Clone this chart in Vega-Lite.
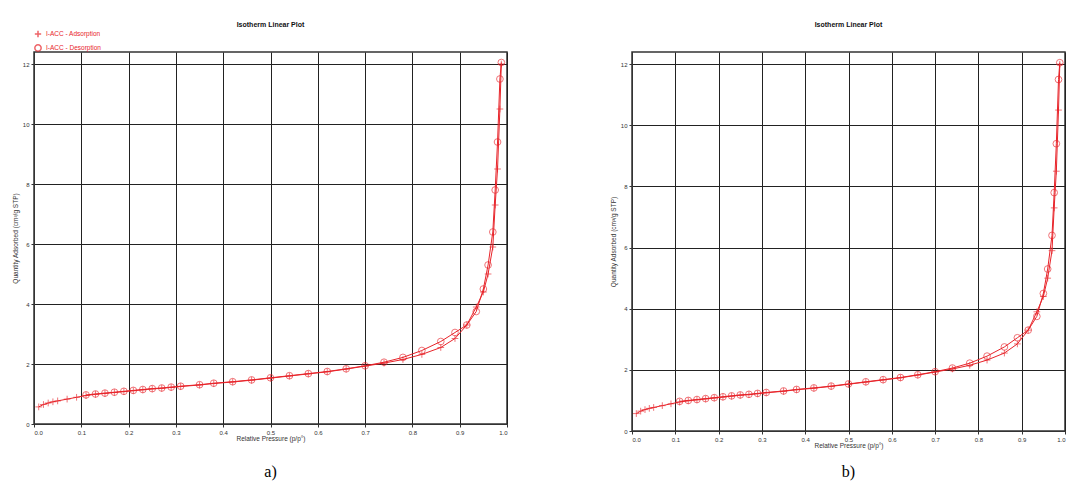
{
  "$schema": "https://vega.github.io/schema/vega-lite/v6.json",
  "background": "white",
  "padding": {"left": 11, "top": 20, "right": 2, "bottom": 0},
  "config": {
    "view": {"stroke": "#333", "strokeWidth": 1.5},
    "font": "Liberation Sans",
    "title": {"fontSize": 7, "fontWeight": "bold", "color": "#111", "offset": 24},
    "axis": {"labelFontSize": 6, "titleFontSize": 6.5, "titleFontWeight": "normal", "gridColor": "#222", "gridOpacity": 1, "gridWidth": 1, "domainColor": "#333", "tickColor": "#333", "labelColor": "#333", "titleColor": "#333", "tickSize": 3}
  },
  "datasets": {
    "iso": [
      {"p": 0.01, "q": 0.57, "s": "I-ACC - Adsorption"},
      {"p": 0.02, "q": 0.65, "s": "I-ACC - Adsorption"},
      {"p": 0.03, "q": 0.70, "s": "I-ACC - Adsorption"},
      {"p": 0.04, "q": 0.74, "s": "I-ACC - Adsorption"},
      {"p": 0.05, "q": 0.77, "s": "I-ACC - Adsorption"},
      {"p": 0.07, "q": 0.83, "s": "I-ACC - Adsorption"},
      {"p": 0.09, "q": 0.89, "s": "I-ACC - Adsorption"},
      {"p": 0.11, "q": 0.95, "s": "I-ACC - Adsorption"},
      {"p": 0.13, "q": 0.99, "s": "I-ACC - Adsorption"},
      {"p": 0.15, "q": 1.02, "s": "I-ACC - Adsorption"},
      {"p": 0.17, "q": 1.05, "s": "I-ACC - Adsorption"},
      {"p": 0.19, "q": 1.08, "s": "I-ACC - Adsorption"},
      {"p": 0.21, "q": 1.11, "s": "I-ACC - Adsorption"},
      {"p": 0.23, "q": 1.14, "s": "I-ACC - Adsorption"},
      {"p": 0.25, "q": 1.17, "s": "I-ACC - Adsorption"},
      {"p": 0.27, "q": 1.19, "s": "I-ACC - Adsorption"},
      {"p": 0.29, "q": 1.22, "s": "I-ACC - Adsorption"},
      {"p": 0.31, "q": 1.25, "s": "I-ACC - Adsorption"},
      {"p": 0.35, "q": 1.30, "s": "I-ACC - Adsorption"},
      {"p": 0.38, "q": 1.35, "s": "I-ACC - Adsorption"},
      {"p": 0.42, "q": 1.40, "s": "I-ACC - Adsorption"},
      {"p": 0.46, "q": 1.46, "s": "I-ACC - Adsorption"},
      {"p": 0.50, "q": 1.53, "s": "I-ACC - Adsorption"},
      {"p": 0.54, "q": 1.60, "s": "I-ACC - Adsorption"},
      {"p": 0.58, "q": 1.67, "s": "I-ACC - Adsorption"},
      {"p": 0.62, "q": 1.74, "s": "I-ACC - Adsorption"},
      {"p": 0.66, "q": 1.83, "s": "I-ACC - Adsorption"},
      {"p": 0.70, "q": 1.93, "s": "I-ACC - Adsorption"},
      {"p": 0.74, "q": 2.03, "s": "I-ACC - Adsorption"},
      {"p": 0.78, "q": 2.15, "s": "I-ACC - Adsorption"},
      {"p": 0.82, "q": 2.32, "s": "I-ACC - Adsorption"},
      {"p": 0.86, "q": 2.55, "s": "I-ACC - Adsorption"},
      {"p": 0.89, "q": 2.85, "s": "I-ACC - Adsorption"},
      {"p": 0.915, "q": 3.3, "s": "I-ACC - Adsorption"},
      {"p": 0.935, "q": 3.9, "s": "I-ACC - Adsorption"},
      {"p": 0.95, "q": 4.4, "s": "I-ACC - Adsorption"},
      {"p": 0.96, "q": 5.0, "s": "I-ACC - Adsorption"},
      {"p": 0.97, "q": 5.9, "s": "I-ACC - Adsorption"},
      {"p": 0.975, "q": 7.3, "s": "I-ACC - Adsorption"},
      {"p": 0.98, "q": 8.5, "s": "I-ACC - Adsorption"},
      {"p": 0.985, "q": 10.5, "s": "I-ACC - Adsorption"},
      {"p": 0.988, "q": 12.0, "s": "I-ACC - Adsorption"},
      {"p": 0.988, "q": 12.05, "s": "I-ACC - Desorption"},
      {"p": 0.985, "q": 11.5, "s": "I-ACC - Desorption"},
      {"p": 0.98, "q": 9.4, "s": "I-ACC - Desorption"},
      {"p": 0.975, "q": 7.8, "s": "I-ACC - Desorption"},
      {"p": 0.97, "q": 6.4, "s": "I-ACC - Desorption"},
      {"p": 0.96, "q": 5.3, "s": "I-ACC - Desorption"},
      {"p": 0.95, "q": 4.5, "s": "I-ACC - Desorption"},
      {"p": 0.935, "q": 3.75, "s": "I-ACC - Desorption"},
      {"p": 0.915, "q": 3.3, "s": "I-ACC - Desorption"},
      {"p": 0.89, "q": 3.05, "s": "I-ACC - Desorption"},
      {"p": 0.86, "q": 2.75, "s": "I-ACC - Desorption"},
      {"p": 0.82, "q": 2.45, "s": "I-ACC - Desorption"},
      {"p": 0.78, "q": 2.22, "s": "I-ACC - Desorption"},
      {"p": 0.74, "q": 2.06, "s": "I-ACC - Desorption"},
      {"p": 0.70, "q": 1.94, "s": "I-ACC - Desorption"},
      {"p": 0.66, "q": 1.84, "s": "I-ACC - Desorption"},
      {"p": 0.62, "q": 1.75, "s": "I-ACC - Desorption"},
      {"p": 0.58, "q": 1.68, "s": "I-ACC - Desorption"},
      {"p": 0.54, "q": 1.61, "s": "I-ACC - Desorption"},
      {"p": 0.50, "q": 1.54, "s": "I-ACC - Desorption"},
      {"p": 0.46, "q": 1.47, "s": "I-ACC - Desorption"},
      {"p": 0.42, "q": 1.41, "s": "I-ACC - Desorption"},
      {"p": 0.38, "q": 1.36, "s": "I-ACC - Desorption"},
      {"p": 0.35, "q": 1.31, "s": "I-ACC - Desorption"},
      {"p": 0.31, "q": 1.26, "s": "I-ACC - Desorption"},
      {"p": 0.29, "q": 1.23, "s": "I-ACC - Desorption"},
      {"p": 0.27, "q": 1.20, "s": "I-ACC - Desorption"},
      {"p": 0.25, "q": 1.18, "s": "I-ACC - Desorption"},
      {"p": 0.23, "q": 1.15, "s": "I-ACC - Desorption"},
      {"p": 0.21, "q": 1.12, "s": "I-ACC - Desorption"},
      {"p": 0.19, "q": 1.09, "s": "I-ACC - Desorption"},
      {"p": 0.17, "q": 1.06, "s": "I-ACC - Desorption"},
      {"p": 0.15, "q": 1.03, "s": "I-ACC - Desorption"},
      {"p": 0.13, "q": 1.00, "s": "I-ACC - Desorption"},
      {"p": 0.11, "q": 0.97, "s": "I-ACC - Desorption"}
    ]
  },
  "spacing": 100,
  "hconcat": [
    {
      "spacing": 19,
      "vconcat": [
        {
          "title": "Isotherm Linear Plot",
          "width": 473,
          "height": 372,
          "data": {"name": "iso"},
          "encoding": {
            "x": {"field": "p", "type": "quantitative", "scale": {"domain": [0, 1]}, "axis": {"title": "Relative Pressure (p/p°)", "values": [0,0.1,0.2,0.3,0.4,0.5,0.6,0.7,0.8,0.9,1.0], "format": ".1f", "titlePadding": 0}},
            "y": {"field": "q", "type": "quantitative", "scale": {"domain": [0, 12.4], "nice": false}, "axis": {"title": "Quantity Adsorbed (cm³/g STP)", "values": [0,2,4,6,8,10,12], "titlePadding": 4}}
          },
          "layer": [
            {"mark": {"type": "line", "color": "#e8242a", "strokeWidth": 1}, "encoding": {"detail": {"field": "s"}, "order": {"field": "p"}}},
            {"mark": {"type": "point", "color": "#e8242a", "size": 45, "strokeWidth": 0.9, "filled": false},
             "encoding": {"shape": {"field": "s", "type": "nominal", "scale": {"range": ["M-1,0L1,0M0,-1L0,1", "circle"]},
               "legend": {"title": null, "orient": "none", "legendX": 0, "legendY": -22, "labelFontSize": 6.5, "labelColor": "#e8242a", "symbolStrokeColor": "#e8242a", "rowPadding": 0, "symbolSize": 40}}}}
          ]
        },
        {
          "width": 473, "height": 20,
          "data": {"values": [{"c": "a)"}]},
          "mark": {"type": "text", "font": "Liberation Serif", "fontSize": 16, "color": "#000"},
          "encoding": {"text": {"field": "c"}},
          "view": {"stroke": null}
        }
      ]
    },
    {
      "spacing": 12,
      "vconcat": [
        {
          "title": "Isotherm Linear Plot",
          "width": 433,
          "height": 379,
          "data": {"name": "iso"},
          "encoding": {
            "x": {"field": "p", "type": "quantitative", "scale": {"domain": [0, 1]}, "axis": {"title": "Relative Pressure (p/p°)", "values": [0,0.1,0.2,0.3,0.4,0.5,0.6,0.7,0.8,0.9,1.0], "format": ".1f", "titlePadding": 0}},
            "y": {"field": "q", "type": "quantitative", "scale": {"domain": [0, 12.4], "nice": false}, "axis": {"title": "Quantity Adsorbed (cm³/g STP)", "values": [0,2,4,6,8,10,12], "titlePadding": 4}}
          },
          "layer": [
            {"mark": {"type": "line", "color": "#e8242a", "strokeWidth": 1}, "encoding": {"detail": {"field": "s"}, "order": {"field": "p"}}},
            {"mark": {"type": "point", "color": "#e8242a", "size": 45, "strokeWidth": 0.9, "filled": false},
             "encoding": {"shape": {"field": "s", "type": "nominal", "scale": {"range": ["M-1,0L1,0M0,-1L0,1", "circle"]},
               "legend": null}}}
          ]
        },
        {
          "width": 433, "height": 20,
          "data": {"values": [{"c": "b)"}]},
          "mark": {"type": "text", "font": "Liberation Serif", "fontSize": 16, "color": "#000"},
          "encoding": {"text": {"field": "c"}},
          "view": {"stroke": null}
        }
      ]
    }
  ]
}
